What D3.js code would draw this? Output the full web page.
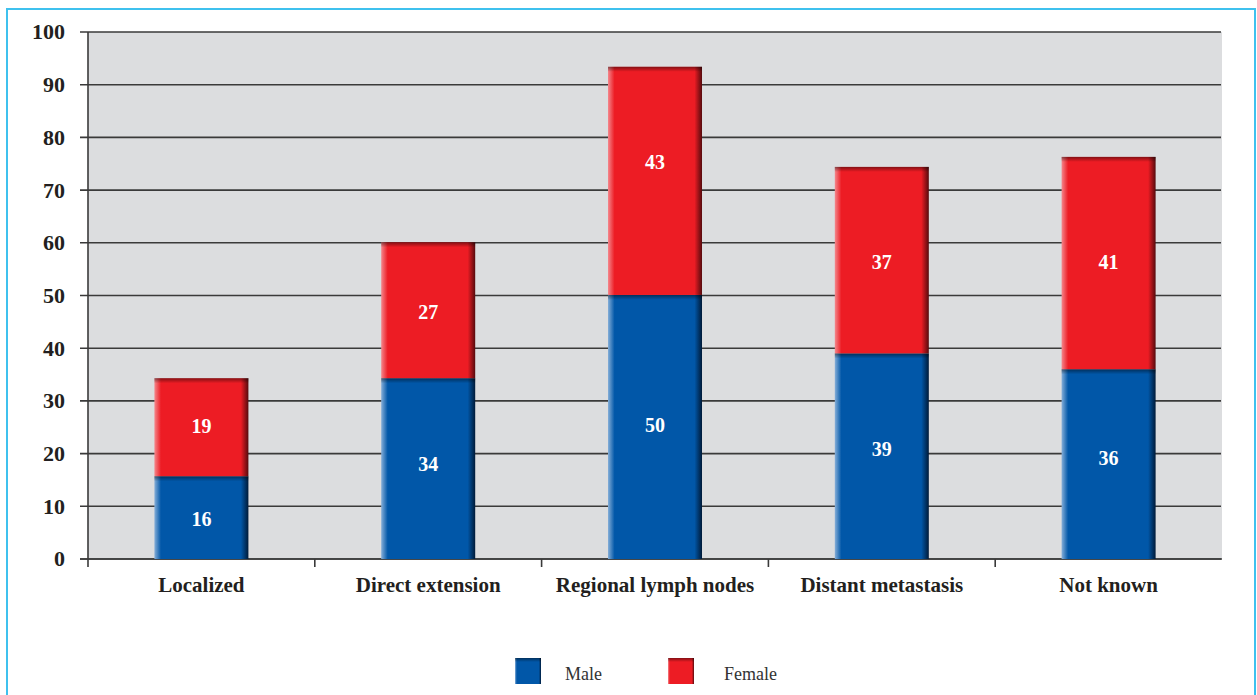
<!DOCTYPE html>
<html>
<head>
<meta charset="utf-8">
<script src="https://cdn.jsdelivr.net/npm/d3@7/dist/d3.min.js"></script>
<style>
  html, body { margin: 0; padding: 0; background: #ffffff; }
  svg { display: block; }
</style>
</head>
<body>
<svg id="chart" width="1257" height="695"></svg>
<script>
// ---- data ----
const categories = ["Localized", "Direct extension", "Regional lymph nodes", "Distant metastasis", "Not known"];
const maleValues = [15.7, 34.3, 50.1, 39.0, 36.0];
const femaleValues = [18.6, 25.8, 43.3, 35.4, 40.3];
const maleLabels = ["16", "34", "50", "39", "36"];
const femaleLabels = ["19", "27", "43", "37", "41"];
// value-axis positions where the segment labels sit (as in the original)
const maleLabelAt = [7.6, 18.0, 25.4, 20.9, 19.2];
const femaleLabelAt = [25.2, 46.8, 75.3, 56.3, 56.3];
const yTicks = [0, 10, 20, 30, 40, 50, 60, 70, 80, 90, 100];
const seriesNames = ["Male", "Female"];

// ---- layout ----
const svg = d3.select("#chart");
const pLeft = 88, pRight = 1222, pTop = 32, pBottom = 559;
const serif = "'Liberation Serif', 'Times New Roman', serif";

const x = d3.scaleBand().domain(categories).range([pLeft, pRight])
  .paddingInner(0.5855).paddingOuter(0.5855 / 2).align(0.5);
const step = (pRight - pLeft) / categories.length;
const y = d3.scaleLinear().domain([0, 100]).range([pBottom, pTop]);

// outer frame
svg.append("rect").attr("x", 7).attr("y", 9).attr("width", 1248).attr("height", 720)
  .attr("fill", "none").attr("stroke", "#3fc1ee").attr("stroke-width", 2);

// gradients
const defs = svg.append("defs");
function hGrad(id, light, base, dark) {
  const g = defs.append("linearGradient").attr("id", id).attr("x1", "0").attr("x2", "1").attr("y1", "0").attr("y2", "0");
  g.append("stop").attr("offset", "0").attr("stop-color", light);
  g.append("stop").attr("offset", "0.07").attr("stop-color", base);
  g.append("stop").attr("offset", "0.92").attr("stop-color", base);
  g.append("stop").attr("offset", "1").attr("stop-color", dark);
}
hGrad("gMale", "#85aed8", "#0157a8", "#001a38");
hGrad("gFemale", "#f4878c", "#ed1c24", "#560a0d");
const tg = defs.append("linearGradient").attr("id", "gTop").attr("x1", "0").attr("x2", "0").attr("y1", "0").attr("y2", "1");
tg.append("stop").attr("offset", "0").attr("stop-color", "#000").attr("stop-opacity", 0.45);
tg.append("stop").attr("offset", "1").attr("stop-color", "#000").attr("stop-opacity", 0);

// plot background
svg.append("rect").attr("x", pLeft).attr("y", pTop).attr("width", pRight - pLeft).attr("height", pBottom - pTop)
  .attr("fill", "#dcdddf");

// gridlines
svg.append("g").selectAll("line").data(yTicks).join("line")
  .attr("x1", pLeft - 8).attr("x2", pRight - 1)
  .attr("y1", d => y(d)).attr("y2", d => y(d))
  .attr("stroke", "#3a3a3a").attr("stroke-width", 1.6);

// y labels
svg.append("g").selectAll("text").data(yTicks).join("text")
  .attr("x", 65).attr("y", d => y(d)).attr("dy", "0.34em")
  .attr("text-anchor", "end")
  .attr("font-family", serif).attr("font-weight", "bold").attr("font-size", 22)
  .attr("fill", "#231f20")
  .text(d => d);

// axis lines
svg.append("line").attr("x1", pLeft).attr("x2", pLeft).attr("y1", pTop).attr("y2", pBottom + 8)
  .attr("stroke", "#3a3a3a").attr("stroke-width", 1.6);
svg.append("line").attr("x1", pLeft - 8).attr("x2", pRight).attr("y1", pBottom).attr("y2", pBottom)
  .attr("stroke", "#3a3a3a").attr("stroke-width", 1.6);
// category boundary ticks
svg.append("g").selectAll("line").data(categories.slice(1)).join("line")
  .attr("x1", d => x(d) - (step - x.bandwidth()) / 2).attr("x2", d => x(d) - (step - x.bandwidth()) / 2)
  .attr("y1", pBottom).attr("y2", pBottom + 8)
  .attr("stroke", "#3a3a3a").attr("stroke-width", 1.6);

// bars
const stacked = categories.map((c, i) => ({
  cat: c,
  segs: [
    { key: "Male", y0: 0, y1: maleValues[i], label: maleLabels[i], at: maleLabelAt[i], fill: "url(#gMale)" },
    { key: "Female", y0: maleValues[i], y1: maleValues[i] + femaleValues[i], label: femaleLabels[i], at: femaleLabelAt[i], fill: "url(#gFemale)" }
  ]
}));
const barG = svg.append("g");
stacked.forEach(s => {
  const g = barG.append("g");
  g.selectAll("rect.seg").data(s.segs).join("rect").attr("class", "seg")
    .attr("x", x(s.cat)).attr("width", x.bandwidth())
    .attr("y", d => y(d.y1)).attr("height", d => y(d.y0) - y(d.y1))
    .attr("fill", d => d.fill);
  g.selectAll("rect.shade").data(s.segs).join("rect").attr("class", "shade")
    .attr("x", x(s.cat)).attr("width", x.bandwidth())
    .attr("y", d => y(d.y1)).attr("height", 5)
    .attr("fill", "url(#gTop)");
  g.selectAll("text").data(s.segs).join("text")
    .attr("x", x(s.cat) + x.bandwidth() / 2)
    .attr("y", d => y(d.at)).attr("dy", "0.35em")
    .attr("text-anchor", "middle")
    .attr("font-family", serif).attr("font-weight", "bold").attr("font-size", 20)
    .attr("fill", "#ffffff")
    .text(d => d.label);
});

// x labels
svg.append("g").selectAll("text").data(categories).join("text")
  .attr("x", d => x(d) + x.bandwidth() / 2).attr("y", 592)
  .attr("text-anchor", "middle")
  .attr("font-family", serif).attr("font-weight", "bold").attr("font-size", 21)
  .attr("fill", "#231f20")
  .text(d => d);

// legend
const legendX = [515, 668];
const legendFill = ["url(#gMale)", "url(#gFemale)"];
const lg = svg.append("g");
seriesNames.forEach((n, i) => {
  lg.append("rect").attr("x", legendX[i]).attr("y", 658).attr("width", 26).attr("height", 26).attr("fill", legendFill[i]);
  lg.append("rect").attr("x", legendX[i]).attr("y", 658).attr("width", 26).attr("height", 4).attr("fill", "url(#gTop)");
  lg.append("text").attr("x", legendX[i] + (i === 0 ? 50 : 56)).attr("y", 680)
    .attr("font-family", serif).attr("font-size", 18).attr("fill", "#333333")
    .text(n);
});
</script>
</body>
</html>
